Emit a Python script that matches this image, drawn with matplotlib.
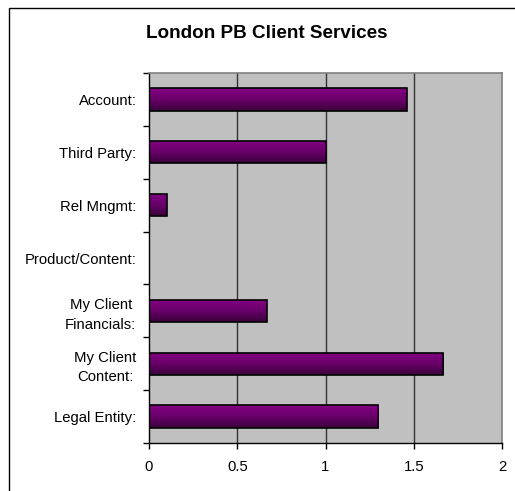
import numpy as np
import matplotlib
matplotlib.use("Agg")
import matplotlib.pyplot as plt
from matplotlib.patches import Rectangle
from matplotlib.colors import LinearSegmentedColormap

plt.rcParams['font.family'] = ['Liberation Sans', 'DejaVu Sans']

title = "London PB Client Services"
categories = ["Account:", "Third Party:", "Rel Mngmt:", "Product/Content:",
              "My Client\nFinancials:", "My Client\nContent:", "Legal Entity:"]
values = [1.46, 1.0, 0.1, 0.0, 0.667, 1.667, 1.3]
x_ticks = [0, 0.5, 1, 1.5, 2]
x_tick_labels = ["0", "0.5", "1", "1.5", "2"]

W, H = 515, 491
fig = plt.figure(figsize=(W / 100, H / 100), dpi=100)
fig.patch.set_facecolor('white')

# chart frame (runs off the right and bottom edges)
fig.patches.append(Rectangle((9 / W, -0.1), 1.2, 1 - 7.5 / H + 0.1,
                             transform=fig.transFigure, fill=False,
                             edgecolor='black', linewidth=1.0))

ax = fig.add_axes([149 / W, 1 - 443 / H, (502 - 149) / W, (443 - 73) / H])
ax.set_facecolor('#c0c0c0')

n = len(categories)
ypos = np.arange(n)

# vertical gridlines
for xv in x_ticks[1:-1]:
    ax.axvline(xv, color='#333333', linewidth=1.0, zorder=1)

grad = LinearSegmentedColormap.from_list('purp', ['#840084', '#6a006a', '#3a003a'])
gimg = np.linspace(0, 1, 64).reshape(-1, 1)
bar_h = 0.42
for y, v in zip(ypos, values):
    if v <= 0:
        continue
    bars = ax.barh(y, v, height=bar_h, facecolor='none', edgecolor='black',
                   linewidth=1.2, zorder=3)
    rect = bars.patches[0]
    im = ax.imshow(gimg, cmap=grad, aspect='auto', interpolation='bilinear',
                   extent=(0, v, y + bar_h / 2, y - bar_h / 2), zorder=2)
    im.set_clip_path(rect)

ax.set_xlim(0, 2)
ax.set_ylim(n - 0.5, -0.5)

for s in ['top', 'right']:
    ax.spines[s].set_color('#808080')
    ax.spines[s].set_linewidth(1.2)
for s in ['left', 'bottom']:
    ax.spines[s].set_color('black')
    ax.spines[s].set_linewidth(1.0)

ax.set_xticks(x_ticks)
ax.set_xticklabels(x_tick_labels, fontsize=10.7)
ax.tick_params(axis='x', direction='out', length=4, width=1, pad=8)

ax.set_yticks(ypos)
ax.set_yticklabels(categories, fontsize=10.7, multialignment='center',
                   linespacing=1.48)
ax.tick_params(axis='y', which='major', length=0, pad=9)
ax.set_yticks(np.arange(-0.5, n, 1.0), minor=True)
ax.tick_params(axis='y', which='minor', direction='out', length=4, width=1)

fig.text(267 / W, 1 - 34 / H, title, ha='center', va='center',
         fontsize=13.6, fontweight='bold')

fig.savefig('out.png', dpi=100)
